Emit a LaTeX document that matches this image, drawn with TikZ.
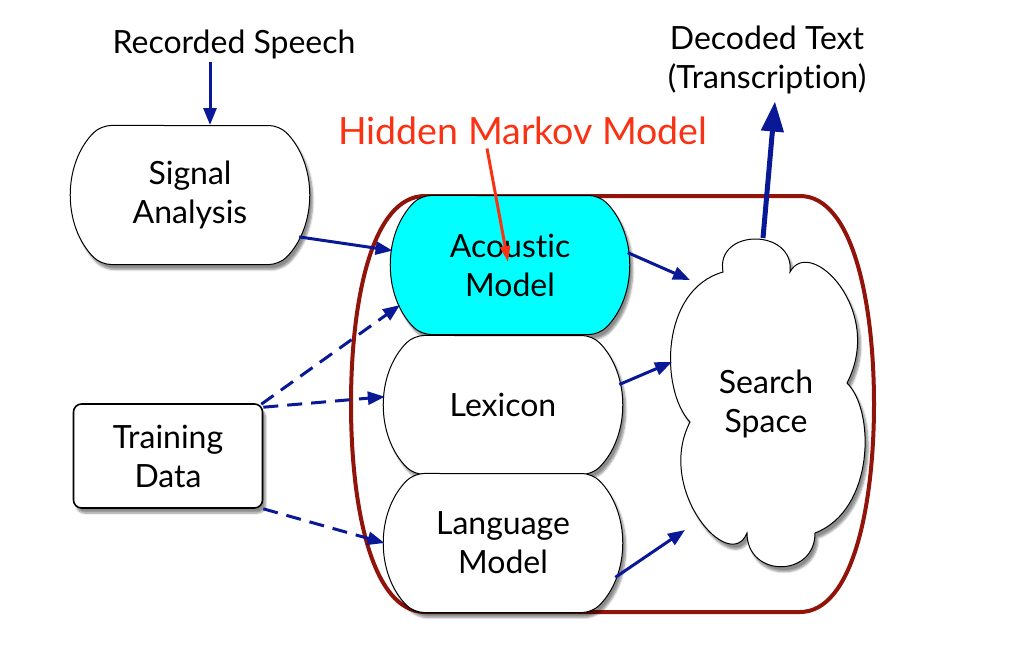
\documentclass[tikz,border=0pt]{standalone}
\usepackage{fontspec}
\setmainfont{Lato}[Ligatures=NoCommon]
\usetikzlibrary{shapes.misc,arrows.meta,shadows.blur}
\definecolor{navy}{RGB}{8,24,150}
\definecolor{hmmred}{RGB}{250,50,20}
\definecolor{boxred}{RGB}{145,20,10}
\definecolor{cyanfill}{RGB}{0,255,255}
\begin{document}
\begin{tikzpicture}[x=1pt,y=-1pt,
  lbl/.style={font=\fontsize{32}{39}\selectfont, align=center},
  shad/.style={blur shadow={shadow xshift=3pt, shadow yshift=-5pt, shadow blur steps=6, shadow opacity=45}},
  barrel/.style={rounded rectangle, rounded rectangle arc length=90, rounded corners=10pt,
    draw=black, line width=1pt, fill=white, minimum width=236pt, minimum height=139pt,
    inner sep=0pt, lbl, shad},
  trainbox/.style={rectangle, rounded corners=8pt, draw=black, line width=1.6pt, fill=white,
    minimum width=189pt, minimum height=104pt, inner sep=0pt, lbl, shad},
  cloudline/.style={draw=black, line width=1pt, fill=white, shad},
  arr/.style={draw=navy, line width=3pt, -{Triangle[length=17pt,width=13pt]}},
  darr/.style={arr, dash pattern=on 15pt off 9pt},
  bigarr/.style={draw=navy, line width=5pt, -{Triangle[length=30pt,width=22pt]}},
  redarr/.style={draw=hmmred, line width=3pt, -{Triangle[length=16pt,width=10pt]}},
  container/.style={draw=boxred, line width=4pt}
]
\useasboundingbox (0,0) rectangle (1018,672);

% container (HMM)
\path[container] (425,196) .. controls (372,196) and (351,300) .. (351,404)
  .. controls (351,508) and (372,612) .. (425,612) -- (800,612)
  .. controls (852,612) and (874,508) .. (874,404)
  .. controls (874,300) and (852,196) .. (800,196) -- cycle;

% texts
\node[lbl] (rec) at (234,44) {Recorded Speech};
\node[lbl] (dec) at (767,60) {Decoded Text\\(Transcription)};
\node[font=\fontsize{37.5}{42}\selectfont, text=hmmred] (hmm) at (523,131) {Hidden Markov Model};

% boxes
\node[barrel] (sig) at (190,195) {Signal\\Analysis};
\node[barrel, fill=cyanfill] (ac) at (510,265) {Acoustic\\Model};
\node[barrel] (lex) at (503,405) {Lexicon};
\node[barrel] (lm) at (503,543) {Language\\Model};
\node[trainbox] (train) at (168,456) {Training\\Data};

% cloud outline
\path[cloudline] (723,272)
  .. controls (715,228) and (795,228) .. (790,272)
  .. controls (810,235) and (885,310) .. (847,383)
  .. controls (875,410) and (875,510) .. (815,533)
  .. controls (815,578) and (747,578) .. (747,533)
  .. controls (730,575) and (655,490) .. (690,422)
  .. controls (660,390) and (660,290) .. (723,272) -- cycle;
\node[lbl, inner sep=0pt] (cloud) at (766,404) {Search\\Space};

% connectors
\draw[arr] ([xshift=-24pt]rec.south) -- ([xshift=20pt]sig.north);
\draw[arr] (sig.-21) -- (ac.173);
\draw[arr] (ac.6) -- ([shift={(-76,-124)}]cloud.center);
\draw[arr] (lex.10) -- ([shift={(-94,-42)}]cloud.center);
\draw[arr] (lm.-17) -- ([shift={(-81,126)}]cloud.center);
\draw[darr] ([shift={(-2,1)}]train.north east) -- (ac.200);
\draw[darr] ([shift={(0,4)}]train.north east) -- (lex.176);
\draw[darr] (train.south east) -- (lm.west);
\draw[bigarr] ([shift={(-3,-166)}]cloud.center) -- ([xshift=8pt,yshift=-4pt]dec.south);
\draw[redarr] ([xshift=-36pt]hmm.south) -- ([shift={(-2,-3)}]ac.center);
\end{tikzpicture}
\end{document}
